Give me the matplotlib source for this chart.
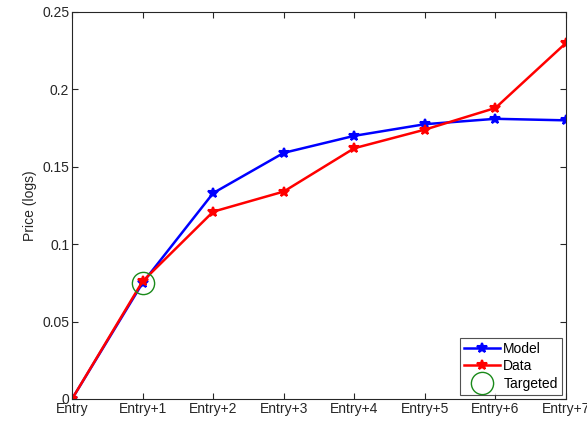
import numpy as np
import matplotlib.pyplot as plt

labels = ['Entry', 'Entry+1', 'Entry+2', 'Entry+3', 'Entry+4', 'Entry+5', 'Entry+6', 'Entry+7']
model = [0.0, 0.075, 0.133, 0.159, 0.170, 0.1775, 0.181, 0.180]
data = [0.0, 0.076, 0.121, 0.134, 0.162, 0.174, 0.188, 0.230]
target_x = [1]
target_y = [0.075]

plt.rcParams['font.family'] = ['Liberation Sans', 'DejaVu Sans']

fig = plt.figure(figsize=(5.87, 4.25), dpi=100)
ax = fig.add_axes([0.1227, 0.0612, 0.8415, 0.9106])

x = np.arange(len(labels))
ax.plot(x, model, color='#0000ff', lw=1.8, marker='*', ms=7, mew=1.5, label='Model')
ax.plot(x, data, color='#ff0000', lw=1.8, marker='*', ms=7, mew=1.5, label='Data')
ax.plot(target_x, target_y, ls='none', marker='o', ms=16, mfc='none', mec='#1a8a1a', mew=1.0, label='Targeted')

ax.set_xlim(0, 7)
ax.set_ylim(0, 0.25)
ax.set_xticks(x)
ax.set_xticklabels(labels)
ax.set_yticks([0, 0.05, 0.1, 0.15, 0.2, 0.25])
ax.set_yticklabels(['0', '0.05', '0.1', '0.15', '0.2', '0.25'])
ax.set_ylabel('Price (logs)', fontsize=10, color='#262626')
ax.tick_params(direction='in', length=4, labelsize=10, colors='#262626', pad=2, top=True, right=True)
for s in ax.spines.values():
    s.set_color('#262626')
    s.set_linewidth(0.8)

leg = ax.legend(loc='lower right', fontsize=10, frameon=True, fancybox=False, edgecolor='#262626',
                handlelength=2.6, borderpad=0.3, labelspacing=0.25, handletextpad=0.2, borderaxespad=0.3)
leg.get_frame().set_linewidth(0.8)

fig.savefig('out.png', dpi=100)
